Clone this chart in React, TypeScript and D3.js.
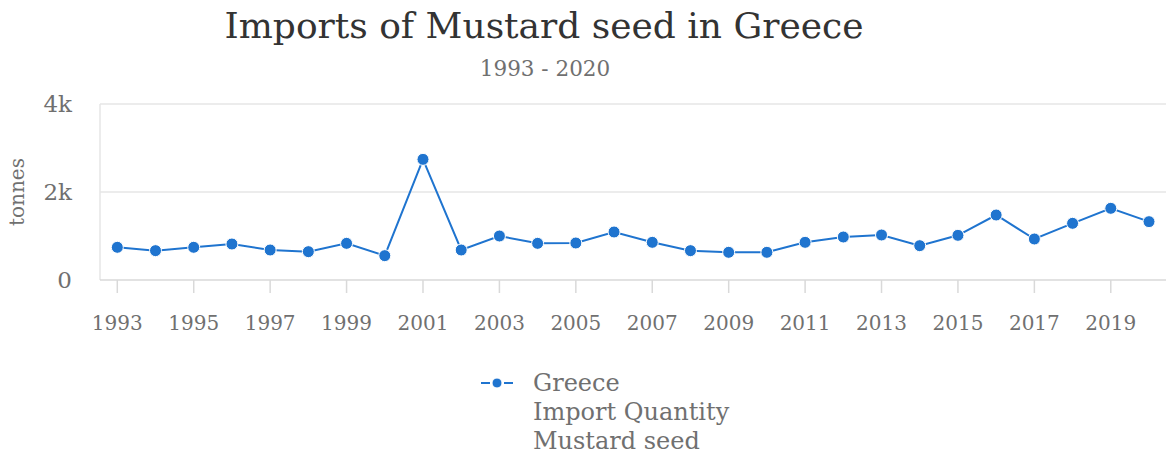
import React from "react";
import * as d3 from "d3";

const years = [1993,1994,1995,1996,1997,1998,1999,2000,2001,2002,2003,2004,2005,2006,2007,2008,2009,2010,2011,2012,2013,2014,2015,2016,2017,2018,2019,2020];
const values = [743,667,743,818,682,644,833,553,2742,682,1000,833,841,1091,856,667,629,629,856,977,1023,780,1015,1477,932,1288,1629,1326];
const xTickYears = [1993,1995,1997,1999,2001,2003,2005,2007,2009,2011,2013,2015,2017,2019];
const yTicks = [0,2000,4000];
const yTickLabels = ["0","2k","4k"];
const legendLines = ["Greece","Import Quantity","Mustard seed"];

const W = 1166, H = 455;
const FONT = "'DejaVu Serif', serif";
const BLUE = "#1f74cf";
const GRAY = "#707070";

export default function App() {
  const x = d3.scaleLinear().domain([1993, 2020]).range([117.3, 1149]);
  const y = d3.scaleLinear().domain([0, 4000]).range([280, 104]);
  const line = d3.line<number>().x((_, i) => x(years[i])).y(d => y(d));
  return (
    <svg width={W} height={H} style={{ position: "absolute", left: 0, top: 0, background: "#fff" }}>
      <text x={544} y={38} textAnchor="middle" fontFamily={FONT} fontSize={36} fill="#333">Imports of Mustard seed in Greece</text>
      <text x={545} y={76} textAnchor="middle" fontFamily={FONT} fontSize={21.5} fill={GRAY}>1993 - 2020</text>
      {yTicks.map((t, i) => (
        <g key={t}>
          {t > 0 && <line x1={100} x2={1166} y1={y(t)} y2={y(t)} stroke="#e6e6e6" strokeWidth={1.5} />}
          <text x={72} y={y(t) + 8} textAnchor="end" fontFamily={FONT} fontSize={23} fill={GRAY}>{yTickLabels[i]}</text>
        </g>
      ))}
      <line x1={100} x2={100} y1={104} y2={280} stroke="#e6e6e6" strokeWidth={1.5} />
      <line x1={100} x2={1166} y1={280} y2={280} stroke="#d9d9d9" strokeWidth={1.5} />
      {xTickYears.map(t => (
        <g key={t}>
          <line x1={x(t)} x2={x(t)} y1={280} y2={293} stroke="#d9d9d9" strokeWidth={1.5} />
          <text x={x(t)} y={330} textAnchor="middle" fontFamily={FONT} fontSize={20} fill={GRAY}>{t}</text>
        </g>
      ))}
      <text transform={`translate(24,192) rotate(-90)`} textAnchor="middle" fontFamily={FONT} fontSize={20} fill={GRAY}>tonnes</text>
      <path d={line(values) || ""} fill="none" stroke={BLUE} strokeWidth={2} />
      {values.map((v, i) => (
        <circle key={i} cx={x(years[i])} cy={y(v)} r={6} fill={BLUE} stroke="#fff" strokeWidth={1} />
      ))}
      <line x1={481} x2={490} y1={383} y2={383} stroke={BLUE} strokeWidth={2} />
      <line x1={504} x2={513} y1={383} y2={383} stroke={BLUE} strokeWidth={2} />
      <circle cx={497} cy={383} r={5} fill={BLUE} stroke="#fff" strokeWidth={1} />
      {legendLines.map((s, i) => (
        <text key={s} x={533} y={391 + i * 29} fontFamily={FONT} fontSize={24} fill={GRAY}>{s}</text>
      ))}
    </svg>
  );
}
